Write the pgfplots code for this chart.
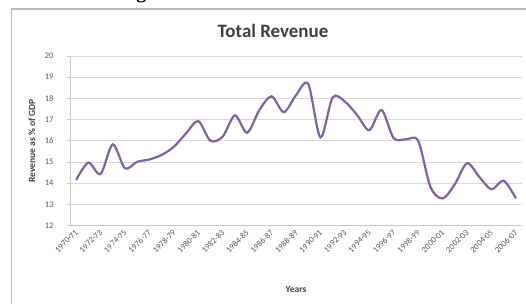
\documentclass[border=0pt]{standalone}
\usepackage{pgfplots}
\pgfplotsset{compat=1.18}
\usepackage{fontspec}
\setmainfont{Carlito}
\newfontfamily\capfont{Liberation Serif}
\definecolor{linepurple}{RGB}{128,100,162}
\definecolor{gridgray}{RGB}{217,217,217}
\definecolor{txtgray}{RGB}{89,89,89}
\definecolor{darktxt}{RGB}{64,64,64}
\begin{document}
\begin{tikzpicture}
\clip (0bp,0bp) rectangle (526bp,304bp);
\fill[white] (0bp,0bp) rectangle (526bp,304bp);
\node[font=\capfont\bfseries\fontsize{20}{22}\selectfont, anchor=base, inner sep=0pt] at (272bp,305.5bp) {Figure 3: Total Revenue in Pakistan};
\draw[gray!55, line width=1.2bp] (11.5bp,295bp) rectangle (560bp,-20bp);
\node[font=\bfseries\fontsize{19}{21}\selectfont, text=darktxt, inner sep=0pt] at (273bp,273.5bp) {Total Revenue};
\node[font=\bfseries\fontsize{9.5}{11}\selectfont, text=darktxt, rotate=90, inner sep=0pt] at (32bp,163bp) {Revenue as \% of GDP};
\node[font=\bfseries\fontsize{9.5}{11}\selectfont, text=darktxt, inner sep=0pt] at (296bp,15bp) {Years};
\begin{axis}[
  at={(70bp,78.4bp)}, anchor=south west,
  scale only axis, width=452bp, height=169.6bp,
  xmin=-0.5, xmax=36.5, ymin=12, ymax=20,
  axis x line*=bottom, axis y line*=left,
  axis line style={gridgray!80!gray, line width=0.8bp, -},
  ymajorgrids, grid style={gridgray, line width=1bp},
  ytick={12,13,...,20},
  xtick={0,2,...,36},
  xticklabels={1970-71,1972-73,1974-75,1976-77,1978-79,1980-81,1982-83,1984-85,1986-87,1988-89,1990-91,1992-93,1994-95,1996-97,1998-99,2000-01,2002-03,2004-05,2006-07},
  x tick style={draw=none},
  y tick style={gridgray!80!gray, line width=0.8bp},
  major tick length=3bp,
  tick align=outside,
  /pgf/number format/assume math mode=true,
  yticklabel style={font=\fontsize{8.5}{10}\selectfont, text=txtgray, xshift=-10bp},
  xticklabel style={font=\fontsize{8.5}{10}\selectfont, text=txtgray, rotate=45, anchor=east, xshift=2bp, yshift=-2bp},
]
\addplot[color=linepurple, line width=2.2bp, smooth, tension=0.5] coordinates {
(0,14.15) (1,14.97) (2,14.43) (3,15.83) (4,14.70) (5,15.01) (6,15.12) (7,15.33)
(8,15.72) (9,16.35) (10,16.93) (11,16.00) (12,16.20) (13,17.20) (14,16.38)
(15,17.45) (16,18.10) (17,17.35) (18,18.15) (19,18.68) (20,16.16) (21,18.05)
(22,17.85) (23,17.22) (24,16.50) (25,17.45) (26,16.12) (27,16.07) (28,16.00)
(29,13.83) (30,13.28) (31,13.95) (32,14.94) (33,14.30) (34,13.71) (35,14.12)
(36,13.28)};
\end{axis}
\end{tikzpicture}
\end{document}
